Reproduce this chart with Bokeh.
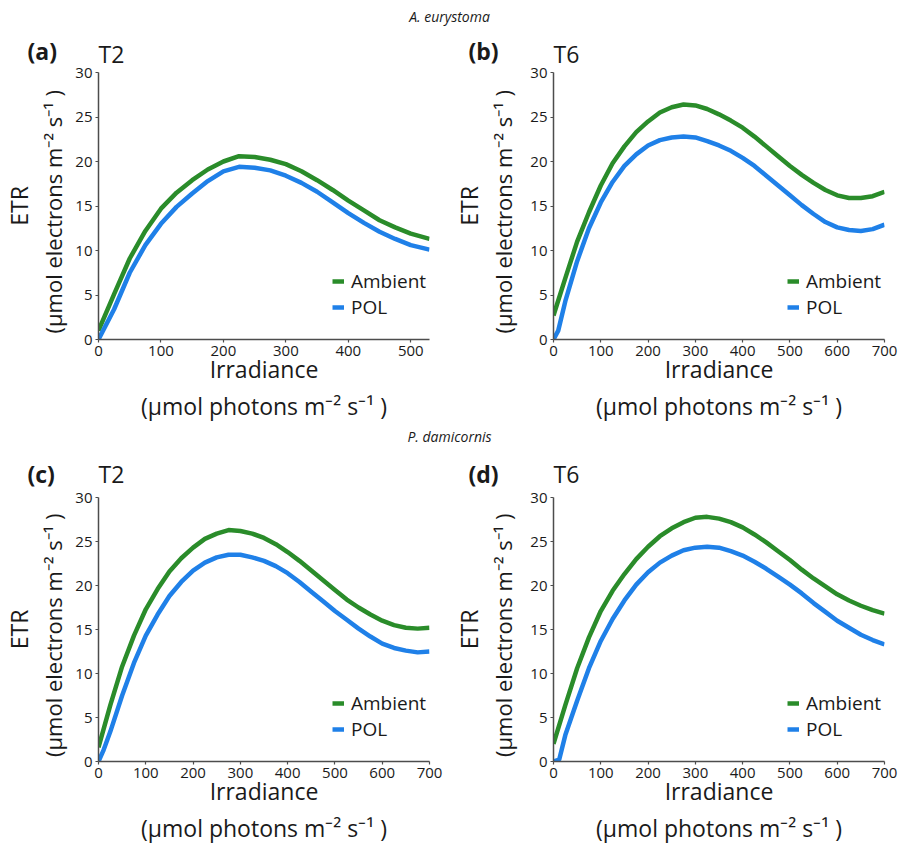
import math
from bokeh.plotting import figure
from bokeh.models import Range1d, FixedTicker, Label, Legend, LegendItem, Title
from bokeh.layouts import column, row
from bokeh.embed import file_html
from bokeh.resources import INLINE

# ---------------- data ----------------
species = ["A. eurystoma", "P. damicornis"]
panel_letters = ["(a)", "(b)", "(c)", "(d)"]
time_labels = ["T2", "T6", "T2", "T6"]
series_names = ["Ambient", "POL"]

y_ticks = [0, 5, 10, 15, 20, 25, 30]
x_ticks_a = [0, 100, 200, 300, 400, 500]
x_ticks_700 = [0, 100, 200, 300, 400, 500, 600, 700]

y_label_1 = "ETR"
y_label_2 = "(μmol electrons   m⁻² s⁻¹ )"
x_label_1 = "Irradiance"
x_label_2 = "(μmol photons m⁻² s⁻¹ )"

# (a) A. eurystoma T2
a_amb_x = [0, 25, 50, 75, 100, 125, 150, 175, 200, 225, 250, 275, 300, 325, 350, 375, 400, 425, 450, 475, 500, 530]
a_amb_y = [1.0, 5.1, 9.1, 12.2, 14.7, 16.5, 17.9, 19.1, 20.0, 20.6, 20.5, 20.2, 19.7, 18.9, 17.9, 16.8, 15.6, 14.5, 13.4, 12.6, 11.9, 11.3]
a_pol_x = [0, 25, 50, 75, 100, 125, 150, 175, 200, 225, 250, 275, 300, 325, 350, 375, 400, 425, 450, 475, 500, 530]
a_pol_y = [0.0, 3.4, 7.5, 10.6, 13.0, 14.9, 16.4, 17.8, 18.9, 19.4, 19.3, 19.0, 18.4, 17.6, 16.6, 15.4, 14.2, 13.1, 12.1, 11.3, 10.6, 10.1]

# (b) A. eurystoma T6
b_amb_x = [0, 25, 50, 75, 100, 125, 150, 175, 200, 225, 250, 275, 300, 325, 350, 375, 400, 425, 450, 475, 500, 525, 550, 575, 600, 625, 650, 675, 700]
b_amb_y = [2.7, 6.9, 11.0, 14.3, 17.3, 19.8, 21.7, 23.3, 24.5, 25.5, 26.1, 26.4, 26.3, 25.9, 25.3, 24.6, 23.8, 22.8, 21.7, 20.6, 19.5, 18.5, 17.6, 16.8, 16.2, 15.9, 15.9, 16.1, 16.6]
b_pol_x = [0, 10, 25, 50, 75, 100, 125, 150, 175, 200, 225, 250, 275, 300, 325, 350, 375, 400, 425, 450, 475, 500, 525, 550, 575, 600, 625, 650, 675, 700]
b_pol_y = [0.0, 1.0, 4.3, 8.8, 12.5, 15.4, 17.7, 19.5, 20.8, 21.8, 22.4, 22.7, 22.8, 22.7, 22.3, 21.8, 21.2, 20.4, 19.5, 18.4, 17.3, 16.2, 15.1, 14.1, 13.2, 12.6, 12.3, 12.2, 12.4, 12.9]

# (c) P. damicornis T2
c_amb_x = [0, 25, 50, 75, 100, 125, 150, 175, 200, 225, 250, 275, 300, 325, 350, 375, 400, 425, 450, 475, 500, 525, 550, 575, 600, 625, 650, 675, 700]
c_amb_y = [1.6, 6.4, 10.8, 14.3, 17.3, 19.6, 21.6, 23.1, 24.3, 25.3, 25.9, 26.3, 26.2, 25.9, 25.4, 24.7, 23.8, 22.8, 21.7, 20.6, 19.5, 18.4, 17.5, 16.7, 16.0, 15.5, 15.2, 15.1, 15.2]
c_pol_x = [0, 10, 25, 50, 75, 100, 125, 150, 175, 200, 225, 250, 275, 300, 325, 350, 375, 400, 425, 450, 475, 500, 525, 550, 575, 600, 625, 650, 675, 700]
c_pol_y = [0.0, 1.2, 3.4, 7.5, 11.2, 14.3, 16.7, 18.8, 20.4, 21.7, 22.6, 23.2, 23.5, 23.5, 23.2, 22.8, 22.2, 21.4, 20.4, 19.3, 18.2, 17.1, 16.1, 15.1, 14.2, 13.4, 12.9, 12.6, 12.4, 12.5]

# (d) P. damicornis T6
d_amb_x = [0, 25, 50, 75, 100, 125, 150, 175, 200, 225, 250, 275, 300, 325, 350, 375, 400, 425, 450, 475, 500, 525, 550, 575, 600, 625, 650, 675, 700]
d_amb_y = [2.0, 6.4, 10.6, 14.1, 17.1, 19.4, 21.3, 23.0, 24.4, 25.6, 26.5, 27.2, 27.7, 27.8, 27.6, 27.2, 26.6, 25.8, 24.9, 23.9, 22.9, 21.8, 20.8, 19.9, 19.0, 18.3, 17.7, 17.2, 16.8]
d_pol_x = [0, 12, 25, 50, 75, 100, 125, 150, 175, 200, 225, 250, 275, 300, 325, 350, 375, 400, 425, 450, 475, 500, 525, 550, 575, 600, 625, 650, 675, 700]
d_pol_y = [0.0, 0.2, 3.0, 6.9, 10.6, 13.7, 16.2, 18.3, 20.1, 21.5, 22.6, 23.4, 24.0, 24.3, 24.4, 24.3, 23.9, 23.4, 22.7, 21.9, 21.0, 20.1, 19.1, 18.0, 17.0, 16.0, 15.2, 14.4, 13.8, 13.3]

# ---------------- styling ----------------
FONT = "Open Sans"
GREEN = "#2a8c2a"
BLUE = "#1f80e8"
TEXT = "#1a1a1a"
AXIS = "#4d4d4d"
TOTAL_W = 898


def make_panel(xmax, xticks, amb_x, amb_y, pol_x, pol_y, tlabel,
               bl, fw, br, bt, fh, bb, t_standoff):
    p = figure(width=bl + fw + br, height=bt + fh + bb, title=tlabel,
               x_range=Range1d(0, xmax), y_range=Range1d(0, 30),
               output_backend="svg", toolbar_location=None, tools="",
               min_border_left=bl, min_border_right=br,
               min_border_top=bt, min_border_bottom=bb)
    p.outline_line_color = None
    p.grid.visible = False
    p.background_fill_color = "white"
    p.border_fill_color = "white"

    p.title.align = "left"
    p.title.offset = 0
    p.title.standoff = t_standoff
    p.title.text_font = FONT
    p.title.text_font_size = "23px"
    p.title.text_font_style = "normal"
    p.title.text_color = TEXT

    for ax, ticks in ((p.xaxis, xticks), (p.yaxis, y_ticks)):
        ax.ticker = FixedTicker(ticks=ticks)
        ax.axis_line_color = AXIS
        ax.axis_line_width = 1.5
        ax.major_tick_line_color = AXIS
        ax.major_tick_line_width = 1.2
        ax.major_tick_out = 3
        ax.major_tick_in = 0
        ax.minor_tick_line_color = None
        ax.major_label_text_font = FONT
        ax.major_label_text_font_size = "15px"
        ax.major_label_text_color = TEXT
        ax.major_label_standoff = 3
        ax.axis_label_text_font = FONT
        ax.axis_label_text_font_style = "normal"
        ax.axis_label_text_color = TEXT

    p.xaxis.axis_label = x_label_1
    p.xaxis.axis_label_text_font_size = "23px"
    p.xaxis.axis_label_standoff = -6
    p.add_layout(Title(text=x_label_2, align="center", standoff=0,
                       text_font=FONT, text_font_size="23px",
                       text_font_style="normal", text_color=TEXT), "below")

    r_amb = p.line(amb_x, amb_y, line_color=GREEN, line_width=4.5)
    r_pol = p.line(pol_x, pol_y, line_color=BLUE, line_width=4.5)

    legend = Legend(items=[LegendItem(label=series_names[0], renderers=[r_amb]),
                           LegendItem(label=series_names[1], renderers=[r_pol])],
                    location=(fw - 97, 19), orientation="vertical",
                    padding=0, margin=0, spacing=0,
                    glyph_width=12, glyph_height=22, label_height=22,
                    label_standoff=7, border_line_color=None,
                    background_fill_alpha=0,
                    label_text_font=FONT, label_text_font_size="19px",
                    label_text_color=TEXT, label_text_baseline="middle")
    p.add_layout(legend)
    return p


def label_column(w, h, min_left, bt, bb, letter, letter_offset, letter_standoff):
    """Narrow figure left of a panel: panel letter (as its title) and the y-axis titles."""
    s = figure(width=w, height=h, title=letter,
               x_range=Range1d(0, 1), y_range=Range1d(0, 1),
               output_backend="svg", toolbar_location=None, tools="",
               x_axis_type=None, y_axis_type=None,
               min_border_left=min_left, min_border_right=0,
               min_border_top=bt, min_border_bottom=bb)
    s.outline_line_color = None
    s.grid.visible = False
    s.title.align = "left"
    s.title.offset = letter_offset
    s.title.standoff = letter_standoff
    s.title.text_font = FONT
    s.title.text_font_size = "23px"
    s.title.text_font_style = "bold"
    s.title.text_color = TEXT
    s.add_layout(Title(text=y_label_2, align="center", standoff=0,
                       text_font=FONT, text_font_size="22px",
                       text_font_style="normal", text_color=TEXT), "left")
    s.add_layout(Title(text=y_label_1, align="center", standoff=1,
                       text_font=FONT, text_font_size="23px",
                       text_font_style="normal", text_color=TEXT), "left")
    return s


def text_strip(h, text, y):
    s = figure(width=TOTAL_W, height=h, x_range=Range1d(0, TOTAL_W), y_range=Range1d(0, h),
               output_backend="svg", toolbar_location=None, tools="",
               x_axis_type=None, y_axis_type=None, min_border=0)
    s.outline_line_color = None
    s.grid.visible = False
    s.add_layout(Label(x=TOTAL_W / 2, y=y, text=text, text_font=FONT,
                       text_font_size="14px", text_font_style="italic",
                       text_color=TEXT, text_align="center", text_baseline="middle"))
    return s


# page layout (px): strip1 0..26, top row 26..421 (frame 69..339),
# strip2 421..447, bottom row 447..843 (frame 494..761)
H1, HTOP, H2, HBOT = 26, 395, 26, 396
BB = 82
BT_TOP, BT_BOT = 43, 47
LCA_W, LCA_MIN = 72, 65
LCB_W, LCB_MIN = 74, 67
PA = (26, 331, 21)
PB = (29, 331, 14)

s1 = text_strip(H1, species[0], 10)
s2 = text_strip(H2, species[1], 11)

ta = label_column(LCA_W, HTOP, LCA_MIN, BT_TOP, BB, panel_letters[0], -40, 12)
tb = label_column(LCB_W, HTOP, LCB_MIN, BT_TOP, BB, panel_letters[1], -49, 12)
tc = label_column(LCA_W, HBOT, LCA_MIN, BT_BOT, BB, panel_letters[2], -40, 16)
td = label_column(LCB_W, HBOT, LCB_MIN, BT_BOT, BB, panel_letters[3], -49, 16)

pa = make_panel(530, x_ticks_a, a_amb_x, a_amb_y, a_pol_x, a_pol_y, time_labels[0],
                PA[0], PA[1], PA[2], BT_TOP, HTOP - BT_TOP - BB, BB, 6)
pb = make_panel(700, x_ticks_700, b_amb_x, b_amb_y, b_pol_x, b_pol_y, time_labels[1],
                PB[0], PB[1], PB[2], BT_TOP, HTOP - BT_TOP - BB, BB, 6)
pc = make_panel(700, x_ticks_700, c_amb_x, c_amb_y, c_pol_x, c_pol_y, time_labels[2],
                PA[0], PA[1], PA[2], BT_BOT, HBOT - BT_BOT - BB, BB, 16)
pd = make_panel(700, x_ticks_700, d_amb_x, d_amb_y, d_pol_x, d_pol_y, time_labels[3],
                PB[0], PB[1], PB[2], BT_BOT, HBOT - BT_BOT - BB, BB, 16)

layout = column(s1, row(ta, pa, tb, pb), s2, row(tc, pc, td, pd))

open("out.html", "w").write(file_html(layout, INLINE))
